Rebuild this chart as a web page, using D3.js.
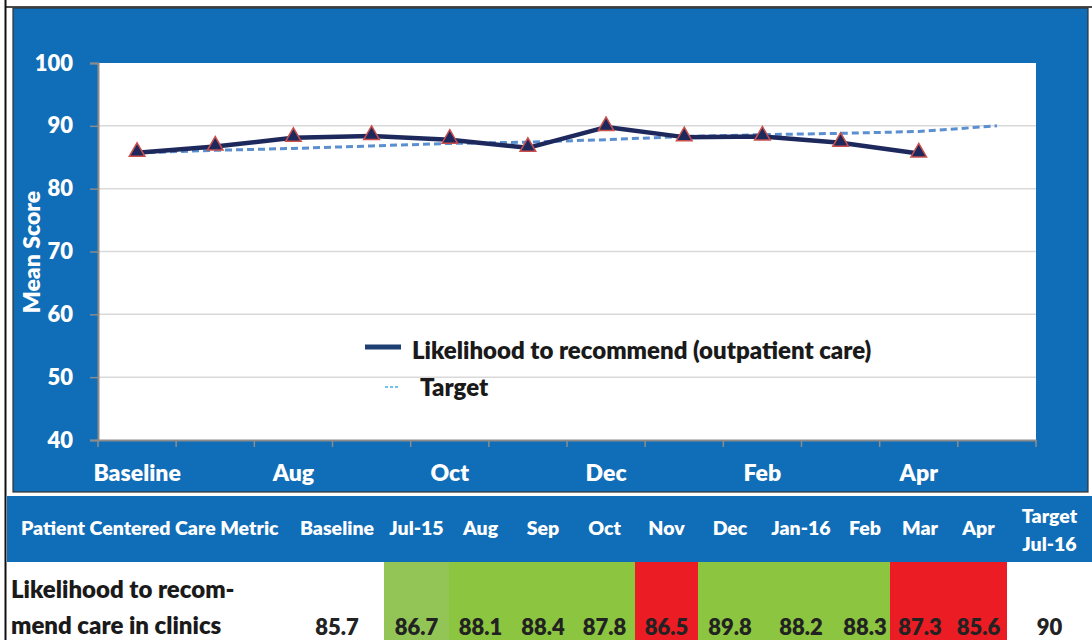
<!DOCTYPE html>
<html>
<head>
<meta charset="utf-8">
<script src="https://cdn.jsdelivr.net/npm/d3@7"></script>
<style>
  html, body { margin: 0; padding: 0; background: #fff; }
  svg { display: block; font-family: Lato, "Open Sans", sans-serif; font-weight: 700; }
</style>
</head>
<body>
<div id="chart"></div>
<script>
// ---- data ----
const periods = ["Baseline", "Jul-15", "Aug", "Sep", "Oct", "Nov", "Dec", "Jan-16", "Feb", "Mar", "Apr", "Target Jul-16"];
const likelihood = [85.7, 86.7, 88.1, 88.4, 87.8, 86.5, 89.8, 88.2, 88.3, 87.3, 85.6];
const target = [85.7, 86.1, 86.4, 86.8, 87.2, 87.4, 87.8, 88.3, 88.6, 88.8, 89.1, 90.0];
const yTicks = [40, 50, 60, 70, 80, 90, 100];
const metricName = ["Likelihood to recom-", "mend care in clinics"];
const tableValues = ["85.7", "86.7", "88.1", "88.4", "87.8", "86.5", "89.8", "88.2", "88.3", "87.3", "85.6", "90"];
const cellStatus = ["none", "first", "met", "met", "met", "miss", "met", "met", "met", "miss", "miss", "none"];

(function () {
    const W = 1092, H = 640;
    const blue = "#106db7";
    const statusColor = { none: "#ffffff", first: "#92c556", met: "#8cc53f", miss: "#ec1c24" };

    const svg = d3.select("#chart").append("svg")
        .attr("width", W).attr("height", H);

    /* ---------- frame + blue panel ---------- */
    svg.append("line").attr("x1", 5.5).attr("x2", 5.5).attr("y1", 0).attr("y2", H)
        .attr("stroke", "#111").attr("stroke-width", 2);
    svg.append("line").attr("x1", 5).attr("x2", W).attr("y1", 7).attr("y2", 7)
        .attr("stroke", "#111").attr("stroke-width", 1.5);
    svg.append("rect").attr("x", 13).attr("y", 8).attr("width", 1075).attr("height", 484)
        .attr("fill", blue).attr("stroke", "#333").attr("stroke-width", 1.2);

    /* ---------- scales ---------- */
    const plot = { left: 98, right: 1036, top: 63, bottom: 440 };
    const x = d3.scaleBand().domain(periods).range([plot.left, plot.right]).padding(0);
    const cx = d => x(d) + x.bandwidth() / 2;
    const y = d3.scaleLinear().domain([40, 100]).range([plot.bottom, plot.top]);

    svg.append("rect")
        .attr("x", plot.left).attr("y", plot.top)
        .attr("width", plot.right - plot.left).attr("height", plot.bottom - plot.top)
        .attr("fill", "#fff");

    // gridlines
    svg.append("g").selectAll("line")
        .data(yTicks.filter(t => t > 40 && t < 100))
        .join("line")
        .attr("x1", plot.left).attr("x2", plot.right)
        .attr("y1", d => y(d)).attr("y2", d => y(d))
        .attr("stroke", "#d9d9d9").attr("stroke-width", 1.5);

    /* ---------- axes ---------- */
    const yAxis = svg.append("g")
        .attr("transform", `translate(${plot.left},0)`)
        .call(d3.axisLeft(y).tickValues(yTicks).tickSize(8).tickPadding(17));
    yAxis.select(".domain").attr("stroke", "#8c8c8c").attr("stroke-width", 2);
    yAxis.selectAll(".tick line").attr("stroke", "#8c8c8c").attr("stroke-width", 1.5);
    yAxis.selectAll(".tick text").attr("fill", "#fff")
        .style("font-size", "22px").style("font-weight", 800).style("font-family", "Lato, sans-serif");

    const xAxis = svg.append("g")
        .attr("transform", `translate(0,${plot.bottom})`)
        .call(d3.axisBottom(x).tickSize(0).tickPadding(25)
            .tickFormat((d, i) => i % 2 === 0 ? d : ""));
    xAxis.select(".domain").attr("stroke", "#8c8c8c").attr("stroke-width", 2);
    xAxis.selectAll(".tick text").attr("fill", "#fff")
        .style("font-size", "23px").style("font-weight", 800).style("font-family", "Lato, sans-serif");
    // tick marks sit on the band edges
    xAxis.append("g").selectAll("line")
        .data(periods.map(p => x(p)).concat([x.range()[1]]))
        .join("line")
        .attr("x1", d => d).attr("x2", d => d)
        .attr("y1", 0).attr("y2", 7)
        .attr("stroke", "#8c8c8c").attr("stroke-width", 1.5);

    svg.append("text")
        .attr("transform", `translate(40,252) rotate(-90)`)
        .attr("text-anchor", "middle")
        .attr("fill", "#fff")
        .style("font-size", "23px").style("font-weight", 800)
        .text("Mean Score");

    /* ---------- lines ---------- */
    const targetData = target.map((v, i) => ({ p: periods[i], v }));
    const lkData = likelihood.map((v, i) => ({ p: periods[i], v }));
    const line = d3.line().x(d => cx(d.p)).y(d => y(d.v));

    svg.append("path").datum(targetData)
        .attr("d", line).attr("fill", "none")
        .attr("stroke", "#5b8fd0").attr("stroke-width", 3)
        .attr("stroke-dasharray", "7,4");

    svg.append("path").datum(lkData)
        .attr("d", line).attr("fill", "none")
        .attr("stroke", "#1d285c").attr("stroke-width", 4.5)
        .attr("stroke-linejoin", "round");

    svg.append("g").selectAll("path")
        .data(lkData)
        .join("path")
        .attr("d", d3.symbol(d3.symbolTriangle, 105))
        .attr("transform", d => `translate(${cx(d.p)},${y(d.v) - 1})`)
        .attr("fill", "#1d285c").attr("stroke", "#c9504d").attr("stroke-width", 1.5);

    /* ---------- legend ---------- */
    const legend = svg.append("g").style("font-weight", 800);
    legend.append("line").attr("x1", 365).attr("x2", 401).attr("y1", 347).attr("y2", 347)
        .attr("stroke", "#1f3f72").attr("stroke-width", 5);
    legend.append("text").attr("x", 412).attr("y", 359)
        .attr("fill", "#1a1a1a").style("font-size", "24px")
        .text("Likelihood to recommend (outpatient care)");
    legend.append("line").attr("x1", 385).attr("x2", 400).attr("y1", 387).attr("y2", 387)
        .attr("stroke", "#3fb1e6").attr("stroke-width", 1.5).attr("stroke-dasharray", "3,2");
    legend.append("text").attr("x", 420).attr("y", 396)
        .attr("fill", "#1a1a1a").style("font-size", "24px")
        .text("Target");

    /* ---------- table ---------- */
    const colWidths = [94, 65, 63, 62, 61, 63, 64, 78, 50, 60, 57, 85];
    const edges = [290].concat(Array.from(d3.cumsum(colWidths), s => 290 + s));
    const cols = periods.map((p, i) => ({
        p, x0: edges[i], x1: edges[i + 1], v: tableValues[i], s: cellStatus[i]
    }));

    svg.append("rect").attr("x", 7).attr("y", 496).attr("width", W - 7).attr("height", 66)
        .attr("fill", blue);

    const table = svg.append("g").style("font-weight", 800);

    table.append("text").attr("x", 21).attr("y", 535)
        .attr("fill", "#fff").style("font-size", "19.5px")
        .text("Patient Centered Care Metric");

    const head = table.append("g").selectAll("text")
        .data(cols)
        .join("text")
        .attr("x", d => (d.x0 + d.x1) / 2)
        .attr("y", 535)
        .attr("text-anchor", "middle")
        .attr("fill", "#fff")
        .style("font-size", "19.5px");
    head.each(function (d) {
        const parts = d.p.split(" ");
        const t = d3.select(this);
        if (parts.length > 1) {
            t.attr("y", 523);
            parts.forEach((w, k) => t.append("tspan")
                .attr("x", (d.x0 + d.x1) / 2).attr("dy", k ? 28 : 0).text(w));
        } else {
            t.text(d.p);
        }
    });

    table.append("g").selectAll("rect")
        .data(cols.filter(d => d.s !== "none"))
        .join("rect")
        .attr("x", d => d.x0).attr("y", 562)
        .attr("width", d => d.x1 - d.x0).attr("height", H - 562)
        .attr("fill", d => statusColor[d.s]);

    table.append("g").selectAll("text")
        .data(metricName)
        .join("text")
        .attr("x", 11).attr("y", (d, i) => 598 + i * 36)
        .attr("fill", "#1a1a1a").style("font-size", "24px")
        .text(d => d);

    table.append("g").selectAll("text")
        .data(cols)
        .join("text")
        .attr("x", d => (d.x0 + d.x1) / 2)
        .attr("y", 635)
        .attr("text-anchor", "middle")
        .attr("fill", "#222")
        .style("font-size", "22px")
        .text(d => d.v);
})();
</script>
</body>
</html>
